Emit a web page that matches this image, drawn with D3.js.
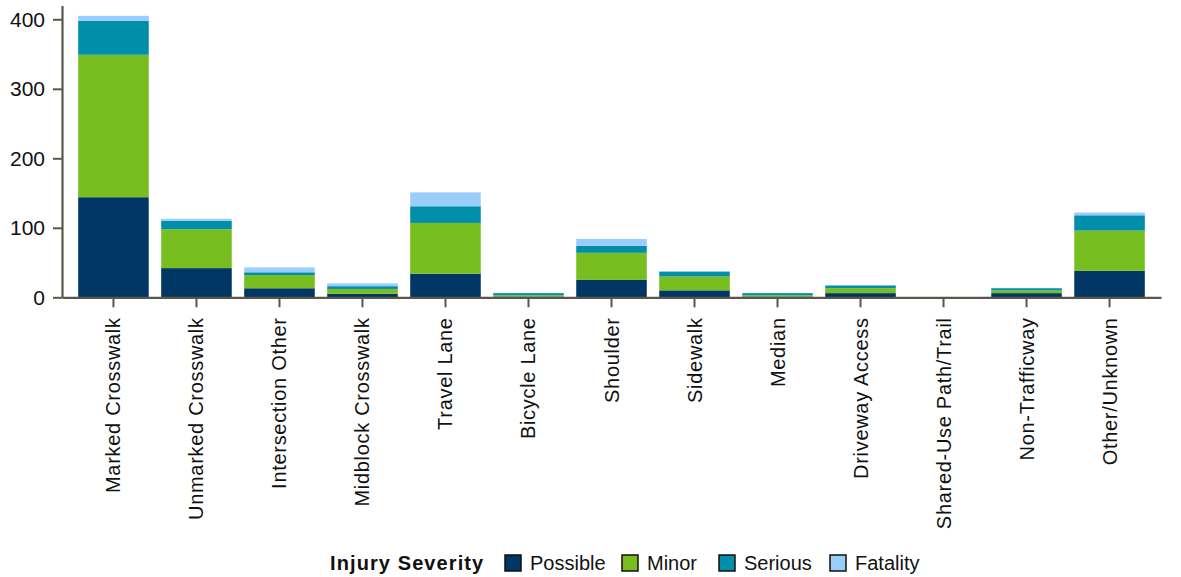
<!DOCTYPE html>
<html>
<head>
<meta charset="utf-8">
<script src="https://cdn.jsdelivr.net/npm/d3@7"></script>
<style>
  body { margin: 0; background: #fff; }
  svg { display: block; font-family: "Liberation Sans", Arial, sans-serif; }
</style>
</head>
<body>
<svg id="chart" width="1181" height="577"></svg>
<script>
const categories = ["Marked Crosswalk", "Unmarked Crosswalk", "Intersection Other", "Midblock Crosswalk",
  "Travel Lane", "Bicycle Lane", "Shoulder", "Sidewalk", "Median", "Driveway Access",
  "Shared-Use Path/Trail", "Non-Trafficway", "Other/Unknown"];
const severities = ["Possible", "Minor", "Serious", "Fatality"];
const possible = [144, 42, 13, 5, 34, 1, 25, 10, 1, 6, 0, 6, 38];
const minor    = [205, 56, 19, 7, 73, 2, 39, 20, 2, 7, 0, 4, 58];
const serious  = [49, 12, 4, 4, 24, 3, 10, 7, 3, 4, 0, 3, 22];
const fatality = [7, 3, 7, 4, 20, 0, 10, 0, 0, 0, 0, 0, 4];
const yTicks = [0, 100, 200, 300, 400];
const colors = ["#003764", "#78be20", "#008eab", "#99cdfb"];

const rows = categories.map((c, i) => ({
  cat: c, Possible: possible[i], Minor: minor[i], Serious: serious[i], Fatality: fatality[i]
}));
const stacked = d3.stack().keys(severities)(rows);

const svg = d3.select("#chart");
const axisColor = "#5b554c";

const x = d3.scaleBand().domain(categories).range([62, 1161]).paddingInner(0.15).paddingOuter(0.195);
const y = d3.scaleLinear().domain([0, 420]).range([297.3, 5.4]);
const color = d3.scaleOrdinal().domain(severities).range(colors);

// bars
svg.append("g").selectAll("g").data(stacked).join("g")
  .attr("fill", d => color(d.key))
  .selectAll("rect").data(d => d).join("rect")
  .attr("x", d => x(d.data.cat))
  .attr("width", x.bandwidth())
  .attr("y", d => y(d[1]))
  .attr("height", d => Math.max(0, y(d[0]) - y(d[1])));

// y axis
const gy = svg.append("g").attr("transform", "translate(62,0)")
  .call(d3.axisLeft(y).tickValues(yTicks).tickSize(9).tickPadding(8).tickSizeOuter(0));
gy.select(".domain").attr("stroke", axisColor).attr("stroke-width", 2.2);
gy.selectAll(".tick line").attr("stroke", axisColor).attr("stroke-width", 2);
gy.selectAll(".tick text").attr("fill", "#111").style("font-size", "21px")
  .style("font-family", "'Liberation Sans', Arial, sans-serif");

// x axis
const gx = svg.append("g").attr("transform", "translate(0,297.3)")
  .call(d3.axisBottom(x).tickSize(10).tickSizeOuter(0).tickPadding(10));
gx.select(".domain").attr("stroke", axisColor).attr("stroke-width", 2.2);
gx.selectAll(".tick line").attr("stroke", axisColor).attr("stroke-width", 2);
gx.selectAll(".tick text")
  .attr("fill", "#111")
  .style("font-size", "20px")
  .style("letter-spacing", "0.7px")
  .style("font-family", "'Liberation Sans', Arial, sans-serif")
  .attr("text-anchor", "end")
  .attr("transform", "rotate(-90)")
  .attr("x", -20)
  .attr("y", 0)
  .attr("dy", "0.35em");

// legend
const legend = svg.append("g").attr("transform", "translate(0,563)");
legend.append("text").attr("x", 330).attr("y", 0).attr("dy", "0.35em")
  .style("font-size", "20px").style("font-weight", "bold").style("letter-spacing", "1.1px")
  .attr("fill", "#111")
  .text("Injury Severity");
const itemX = [505, 622, 719, 830];
severities.forEach((s, i) => {
  const g = legend.append("g").attr("transform", `translate(${itemX[i]},0)`);
  g.append("rect").attr("x", 0).attr("y", -8).attr("width", 16).attr("height", 16)
    .attr("fill", color(s)).attr("stroke", "#111").attr("stroke-width", 1.5);
  g.append("text").attr("x", 25).attr("y", 0).attr("dy", "0.35em")
    .style("font-size", "20px").attr("fill", "#111").text(s);
});
</script>
</body>
</html>
